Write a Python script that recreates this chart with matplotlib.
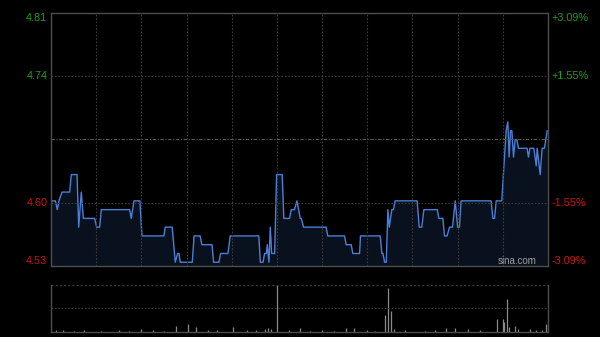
import matplotlib
matplotlib.use("Agg")
import matplotlib.pyplot as plt
import matplotlib.transforms as mtransforms

# intraday minute (0 = 9:30, 150 = lunch break, 330 = close) and price at each turning point
price_t = [0, 2.9, 4.2, 5.3, 7.3, 12.4, 13.5, 17.3, 18.4, 20.1, 21.5, 29, 30.3, 32.3, 33.4,
           52.2, 53.3, 55.1, 59, 60.4, 75, 75.8, 80.5, 82.5, 84.1, 85, 85.8, 93.8, 95, 99,
           100.2, 106.9, 108, 111.5, 112.6, 117.5, 119, 138, 139, 140.8, 141.8, 143, 143.6,
           144.7, 145.6, 146.5, 148.5, 149.8, 153.5, 154.6, 158.4, 159.5, 161.7, 163.3, 165.5,
           166.2, 167.7, 182.7, 183.8, 194.9, 196, 199.3, 200.4, 204.9, 205.5, 218.6, 219.7,
           220.4, 221.5, 222.6, 223.7, 224.6, 226.3, 227.4, 228.5, 243.1, 244.5, 246.2, 247.6,
           256.5, 257.5, 260.2, 261.3, 263, 264.6, 266.6, 268.4, 270, 271.2, 272.3, 292.2,
           293.4, 294.5, 295.6, 299.3, 302.2, 303.3, 304.2, 305.1, 306, 307.1, 308.2, 309.3,
           310.4, 316.1, 317, 318, 320.6, 322.2, 322.8, 324.8, 326.1, 327.6, 329.5]
price_v = [4.60, 4.60, 4.59, 4.60, 4.61, 4.61, 4.63, 4.63, 4.57, 4.61, 4.58, 4.58, 4.57, 4.57, 4.59,
           4.59, 4.58, 4.60, 4.60, 4.56, 4.56, 4.57, 4.57, 4.53, 4.54, 4.54, 4.53, 4.53, 4.56, 4.56,
           4.55, 4.55, 4.53, 4.53, 4.54, 4.54, 4.56, 4.56, 4.53, 4.53, 4.54, 4.54, 4.55,
           4.53, 4.57, 4.54, 4.54, 4.63, 4.63, 4.58, 4.58, 4.59, 4.59, 4.60, 4.58,
           4.58, 4.57, 4.57, 4.56, 4.56, 4.55, 4.55, 4.54, 4.54, 4.56, 4.56, 4.54,
           4.54, 4.53, 4.53, 4.59, 4.57, 4.59, 4.59, 4.60, 4.60, 4.57, 4.57, 4.59,
           4.59, 4.58, 4.58, 4.56, 4.56, 4.57, 4.57, 4.60, 4.57, 4.57, 4.60, 4.60,
           4.58, 4.58, 4.60, 4.60, 4.68, 4.69, 4.65, 4.68, 4.68, 4.65, 4.67, 4.67,
           4.66, 4.66, 4.65, 4.66, 4.66, 4.64, 4.66, 4.63, 4.66, 4.66, 4.68]

prev_close = 4.67
pct_levels = [3.09, 1.55, -1.55, -3.09]

# volume bars (relative units) at the minutes where a bar is visible
vol_t = [3, 8, 15, 22, 33, 45, 52, 60, 68, 75, 83, 91, 96, 104, 110, 121, 130, 136, 142, 144,
         146, 150, 158, 165, 172, 180, 188, 196, 201, 210, 215, 222, 224, 226, 228, 235, 248,
         255, 262, 268, 277, 285, 296, 300, 301, 303, 304, 308, 310, 318, 322, 326, 329, 330]
vol_v = [3, 4, 2, 4, 2, 3, 2, 6, 3, 2, 12, 16, 9, 3, 4, 9, 3, 4, 6, 7,
         6, 100, 3, 8, 2, 3, 2, 8, 8, 3, 2, 36, 93, 44, 6, 3, 2,
         3, 8, 8, 6, 3, 27, 27, 21, 69, 11, 13, 6, 6, 4, 3, 16, 16]

BG = "#000000"
SPINE = "#4d4d4d"
GRID = "#3c3c3c"
GREEN = "#1f9e1f"
RED = "#cc1414"
LINE = "#4a80d8"

lo = prev_close * (1 - 0.0309)
hi = prev_close * (1 + 0.0309)
ticks = [prev_close * (1 + p / 100) for p in pct_levels]

fig = plt.figure(figsize=(6, 3.37), dpi=100, facecolor=BG)
ax = fig.add_axes([51 / 600, 1 - 266 / 337, 497 / 600, 253 / 337], facecolor=BG)
axv = fig.add_axes([51 / 600, 1 - 331.7 / 337, 497 / 600, 46.7 / 337], facecolor=BG)

# price panel
ax.fill_between(price_t, price_v, lo, color="#0a111e", lw=0)
ax.plot(price_t, price_v, color=LINE, lw=1.0)
ax.set_xlim(0, 330)
ax.set_ylim(lo, hi)
for m in range(30, 330, 30):
    ax.axvline(m, color=GRID, lw=0.8, ls=(0, (1.5, 1.5)))
for t in ticks[1:3]:
    ax.axhline(t, color=GRID, lw=0.8, ls=(0, (1.5, 1.5)))
ax.axhline(prev_close, color="#5a5a5a", lw=0.8, ls=(0, (3, 1.5, 1, 1.5)))
ax.set_xticks([])
ax.set_yticks([])
for s in ax.spines.values():
    s.set_color(SPINE)
    s.set_linewidth(1.0)

lab_tr = mtransforms.blended_transform_factory(fig.transFigure, ax.transData)
vas = ["top", "center", "center", "bottom"]
for t, p, va in zip(ticks, pct_levels, vas):
    col = GREEN if p > 0 else RED
    ax.text(47.5 / 600, t, f"{t:.2f}", transform=lab_tr, ha="right", va=va,
            color=col, fontsize=7.8, family="Liberation Sans")
    ax.text(552 / 600, t, f"{p:+.2f}%", transform=lab_tr, ha="left", va=va,
            color=col, fontsize=7.8, family="Liberation Sans")

ax.text(0.938, 0.018, "sina.com", transform=ax.transAxes, ha="center", va="center",
        color="#a0a0a0", fontsize=7, family="Liberation Sans")

# volume panel
axv.vlines(vol_t, 0, vol_v, color="#8a8a8a", lw=0.9)
axv.set_xlim(0, 330)
axv.set_ylim(0, 100)
axv.axhline(50, color=GRID, lw=0.8, ls=(0, (1.5, 1.5)))
axv.axhline(100, color=GRID, lw=1.0, ls=(0, (1.5, 1.5)))
axv.set_xticks([])
axv.set_yticks([])
axv.spines["top"].set_visible(False)
for k in ["left", "right", "bottom"]:
    axv.spines[k].set_color(SPINE)
    axv.spines[k].set_linewidth(1.0)

fig.savefig("out.png", dpi=100, facecolor=BG)
